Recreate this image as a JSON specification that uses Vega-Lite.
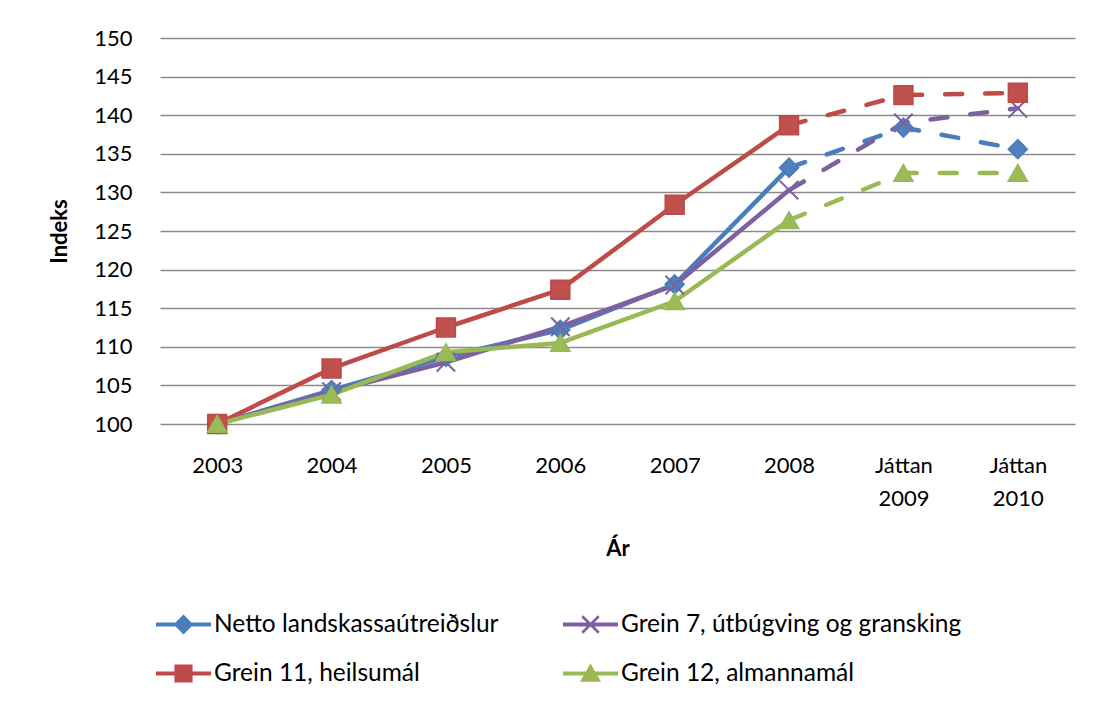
{
  "$schema": "https://vega.github.io/schema/vega-lite/v6.json",
  "width": 915,
  "height": 386,
  "autosize": {"type": "none"},
  "padding": {"left": 160, "top": 38, "right": 22, "bottom": 278},
  "background": "white",
  "config": {"view": {"stroke": null}, "font": "Lato"},
  "data": {
    "values": [
      {"ar": "2003", "rod": "Netto landskassaútreiðslur", "indeks": 100, "spa": false},
      {"ar": "2004", "rod": "Netto landskassaútreiðslur", "indeks": 104.4, "spa": false},
      {"ar": "2005", "rod": "Netto landskassaútreiðslur", "indeks": 108.7, "spa": false},
      {"ar": "2006", "rod": "Netto landskassaútreiðslur", "indeks": 112.2, "spa": false},
      {"ar": "2007", "rod": "Netto landskassaútreiðslur", "indeks": 118.1, "spa": false},
      {"ar": "2008", "rod": "Netto landskassaútreiðslur", "indeks": 133.2, "spa": false},
      {"ar": "Játtan 2009", "rod": "Netto landskassaútreiðslur", "indeks": 138.4, "spa": true},
      {"ar": "Játtan 2010", "rod": "Netto landskassaútreiðslur", "indeks": 135.6, "spa": true},
      {"ar": "2003", "rod": "Grein 7, útbúgving og gransking", "indeks": 100, "spa": false},
      {"ar": "2004", "rod": "Grein 7, útbúgving og gransking", "indeks": 104.2, "spa": false},
      {"ar": "2005", "rod": "Grein 7, útbúgving og gransking", "indeks": 108.0, "spa": false},
      {"ar": "2006", "rod": "Grein 7, útbúgving og gransking", "indeks": 112.6, "spa": false},
      {"ar": "2007", "rod": "Grein 7, útbúgving og gransking", "indeks": 118.0, "spa": false},
      {"ar": "2008", "rod": "Grein 7, útbúgving og gransking", "indeks": 130.3, "spa": false},
      {"ar": "Játtan 2009", "rod": "Grein 7, útbúgving og gransking", "indeks": 139.0, "spa": true},
      {"ar": "Játtan 2010", "rod": "Grein 7, útbúgving og gransking", "indeks": 140.9, "spa": true},
      {"ar": "2003", "rod": "Grein 11, heilsumál", "indeks": 100, "spa": false},
      {"ar": "2004", "rod": "Grein 11, heilsumál", "indeks": 107.2, "spa": false},
      {"ar": "2005", "rod": "Grein 11, heilsumál", "indeks": 112.5, "spa": false},
      {"ar": "2006", "rod": "Grein 11, heilsumál", "indeks": 117.4, "spa": false},
      {"ar": "2007", "rod": "Grein 11, heilsumál", "indeks": 128.4, "spa": false},
      {"ar": "2008", "rod": "Grein 11, heilsumál", "indeks": 138.7, "spa": false},
      {"ar": "Játtan 2009", "rod": "Grein 11, heilsumál", "indeks": 142.6, "spa": true},
      {"ar": "Játtan 2010", "rod": "Grein 11, heilsumál", "indeks": 142.9, "spa": true},
      {"ar": "2003", "rod": "Grein 12, almannamál", "indeks": 100, "spa": false},
      {"ar": "2004", "rod": "Grein 12, almannamál", "indeks": 103.8, "spa": false},
      {"ar": "2005", "rod": "Grein 12, almannamál", "indeks": 109.3, "spa": false},
      {"ar": "2006", "rod": "Grein 12, almannamál", "indeks": 110.5, "spa": false},
      {"ar": "2007", "rod": "Grein 12, almannamál", "indeks": 115.9, "spa": false},
      {"ar": "2008", "rod": "Grein 12, almannamál", "indeks": 126.4, "spa": false},
      {"ar": "Játtan 2009", "rod": "Grein 12, almannamál", "indeks": 132.5, "spa": true},
      {"ar": "Játtan 2010", "rod": "Grein 12, almannamál", "indeks": 132.5, "spa": true}
    ]
  },
  "encoding": {
    "x": {
      "field": "ar",
      "type": "ordinal",
      "sort": null,
      "scale": {"padding": 0.5},
      "axis": {
        "title": "Ár",
        "titleFont": "Lato",
        "titleFontSize": 22,
        "titleFontWeight": "bold",
        "titleColor": "#000000",
        "titlePadding": 29,
        "labelFont": "Lato",
        "labelFontSize": 22,
        "labelColor": "#000000",
        "labelAngle": 0,
        "labelPadding": 31,
        "labelLineHeight": 33,
        "labelExpr": "split(datum.label, ' ')",
        "ticks": false,
        "domain": false,
        "grid": false
      }
    },
    "y": {
      "field": "indeks",
      "type": "quantitative",
      "scale": {"domain": [100, 150], "nice": false, "zero": false},
      "axis": {
        "title": "Indeks",
        "titleFont": "Lato",
        "titleFontSize": 22,
        "titleFontWeight": "bold",
        "titleColor": "#000000",
        "titlePadding": 22,
        "labelFont": "Lato",
        "labelFontSize": 22,
        "labelColor": "#000000",
        "labelPadding": 28,
        "values": [100, 105, 110, 115, 120, 125, 130, 135, 140, 145, 150],
        "ticks": false,
        "domain": false,
        "grid": true,
        "gridColor": "#8a8a8a",
        "gridWidth": 1.5
      }
    }
  },
  "layer": [
    {
      "transform": [{"filter": "datum.spa == false"}],
      "mark": {"type": "line", "strokeWidth": 4.5, "strokeCap": "round", "strokeJoin": "round"},
      "encoding": {
        "stroke": {
          "field": "rod",
          "type": "nominal",
          "scale": {
            "domain": ["Netto landskassaútreiðslur", "Grein 7, útbúgving og gransking", "Grein 11, heilsumál", "Grein 12, almannamál"],
            "range": ["#4a7ebb", "#7d60a0", "#be4b48", "#98b954"]
          },
          "legend": null
        }
      }
    },
    {
      "transform": [{"filter": "datum.spa == true || datum.ar == '2008'"}],
      "mark": {"type": "line", "strokeWidth": 4.5, "strokeDash": [17, 23], "strokeCap": "round", "strokeJoin": "round"},
      "encoding": {
        "stroke": {
          "field": "rod",
          "type": "nominal",
          "scale": {
            "domain": ["Netto landskassaútreiðslur", "Grein 7, útbúgving og gransking", "Grein 11, heilsumál", "Grein 12, almannamál"],
            "range": ["#4a7ebb", "#7d60a0", "#be4b48", "#98b954"]
          },
          "legend": null
        }
      }
    },
    {
      "mark": {"type": "point", "filled": true, "opacity": 1, "size": 340, "strokeWidth": 2},
      "encoding": {
        "fill": {
          "field": "rod",
          "type": "nominal",
          "scale": {
            "domain": ["Netto landskassaútreiðslur", "Grein 7, útbúgving og gransking", "Grein 11, heilsumál", "Grein 12, almannamál"],
            "range": ["#4f81bd", "#8064a2", "#c0504d", "#9bbb59"]
          },
          "legend": null
        },
        "stroke": {
          "field": "rod",
          "type": "nominal",
          "legend": null
        },
        "shape": {
          "field": "rod",
          "type": "nominal",
          "scale": {
            "domain": ["Netto landskassaútreiðslur", "Grein 7, útbúgving og gransking", "Grein 11, heilsumál", "Grein 12, almannamál"],
            "range": ["diamond", "M-1,-1L1,1M1,-1L-1,1", "square", "triangle-up"]
          },
          "legend": null
        }
      }
    },
    {
      "transform": [{"filter": "false"}],
      "mark": {"type": "point", "filled": true, "opacity": 1},
      "encoding": {
        "fill": {
          "field": "rod",
          "type": "nominal",
          "scale": {
            "domain": ["Netto landskassaútreiðslur", "Grein 7, útbúgving og gransking", "Grein 11, heilsumál", "Grein 12, almannamál"],
            "range": ["#4a7ebb", "#7d60a0", "#be4b48", "#98b954"]
          },
          "legend": {
            "title": null,
            "orient": "none",
            "direction": "horizontal",
            "legendX": -4,
            "legendY": 559,
            "columns": 2,
            "gridAlign": "each",
            "columnPadding": 64,
            "rowPadding": 10,
            "symbolSize": 3025,
            "symbolStrokeWidth": 0,
            "symbolOpacity": 1,
            "labelFont": "Lato",
            "labelFontSize": 24.5,
            "labelColor": "#000000",
            "labelOffset": 3,
            "labelLimit": 600
          }
        },
        "shape": {
          "field": "rod",
          "type": "nominal",
          "scale": {
            "domain": ["Netto landskassaútreiðslur", "Grein 7, útbúgving og gransking", "Grein 11, heilsumál", "Grein 12, almannamál"],
            "range": [
              "M-1,-0.075H1V0.075H-1Z M0,-0.36L0.36,0L0,0.36L-0.36,0Z",
              "M-1,-0.075H1V0.075H-1Z M-0.335,-0.265L-0.265,-0.335L0.335,0.265L0.265,0.335Z M0.265,-0.335L0.335,-0.265L-0.265,0.335L-0.335,0.265Z",
              "M-1,-0.075H1V0.075H-1Z M-0.33,-0.33H0.33V0.33H-0.33Z",
              "M-1,-0.075H1V0.075H-1Z M0,-0.36L0.38,0.3H-0.38Z"
            ]
          },
          "legend": {
            "title": null,
            "orient": "none",
            "direction": "horizontal",
            "legendX": -4,
            "legendY": 559,
            "columns": 2,
            "gridAlign": "each",
            "columnPadding": 64,
            "rowPadding": 10,
            "symbolSize": 3025,
            "symbolStrokeWidth": 0,
            "symbolOpacity": 1,
            "labelFont": "Lato",
            "labelFontSize": 24.5,
            "labelColor": "#000000",
            "labelOffset": 3,
            "labelLimit": 600
          }
        }
      }
    }
  ],
  "resolve": {"scale": {"fill": "independent", "shape": "independent"}}
}
